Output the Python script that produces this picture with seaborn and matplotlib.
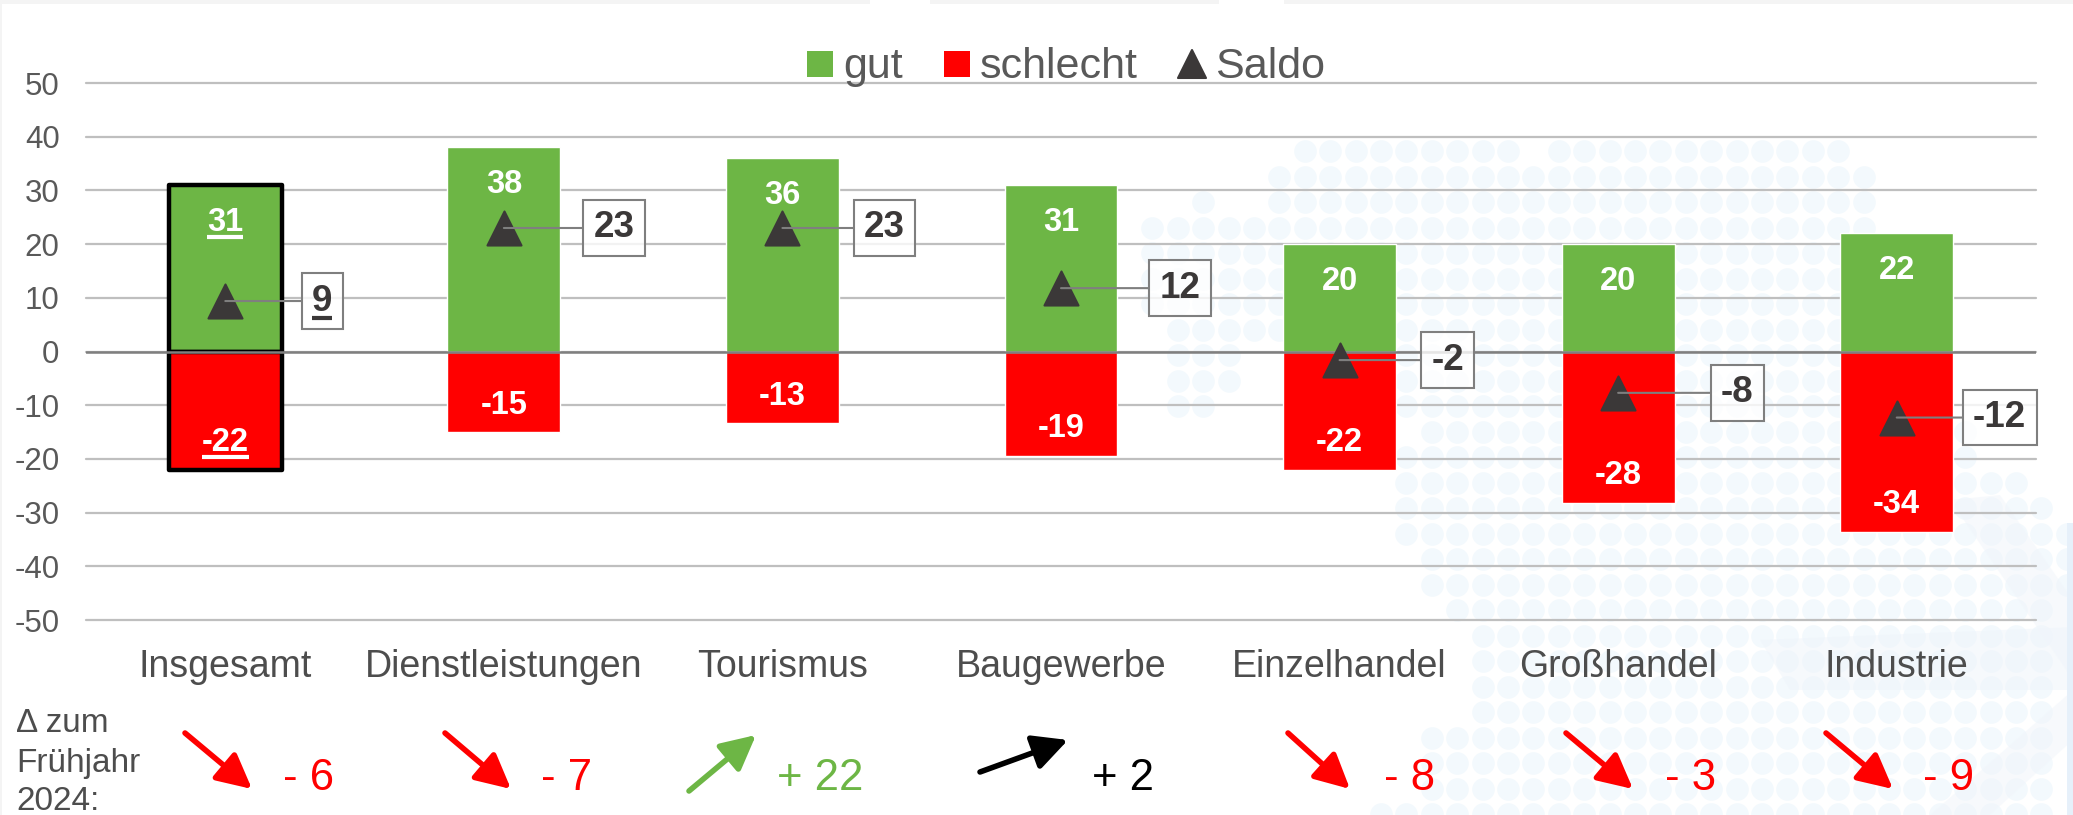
import matplotlib
matplotlib.use("Agg")
import matplotlib.pyplot as plt
from matplotlib.lines import Line2D
from matplotlib.markers import MarkerStyle
from matplotlib.text import Text
from matplotlib.transforms import IdentityTransform
import pandas as pd
import seaborn as sns

branchen = ["Insgesamt", "Dienstleistungen", "Tourismus", "Baugewerbe", "Einzelhandel", "Großhandel", "Industrie"]
gut = [31, 38, 36, 31, 20, 20, 22]
schlecht = [-22, -15, -13.4, -19.4, -22, -28.2, -33.6]
saldo = [9.4, 23, 23, 11.8, -1.6, -7.7, -12.3]
delta = [-6, -7, 22, 2, -8, -3, -9]
y_ticks = [50, 40, 30, 20, 10, 0, -10, -20, -30, -40, -50]

GREEN = "#6DB645"
RED = "#FF0000"
DARK = "#3B3838"
GREY_TEXT = "#595959"

# layout in pixels of the 2073x815 picture
box_offset = [97, 110, 102, 119, 108, 119, 103]
arrow_tail = [(185, 733), (445, 733), (689, 791), (980, 772), (1288, 733), (1566, 733), (1826, 733)]
arrow_tip = [(252, 789), (511, 789), (756, 735), (1068, 740), (1350, 789), (1633, 789), (1893, 789)]
delta_x = [283, 541, 777, 1092, 1384, 1665, 1923]

# background dot map: row y -> column ranges
dot_rows = {
    151: [(6, 14), (16, 27)], 177: [(5, 28)], 202: [(2, 2), (5, 28)], 228: [(0, 28)],
    253: [(0, 28)], 279: [(0, 28)], 304: [(0, 29)], 330: [(1, 30)], 355: [(1, 3), (10, 31)],
    381: [(1, 3), (10, 31)], 406: [(1, 2), (10, 31)], 432: [(11, 32)], 457: [(10, 32)],
    483: [(10, 34)], 508: [(10, 35)], 534: [(10, 36)], 559: [(11, 36)], 585: [(11, 36)],
    610: [(12, 35)], 636: [(13, 35)], 661: [(13, 35)], 687: [(13, 35)], 712: [(13, 35)],
    738: [(11, 35)], 763: [(11, 35)], 789: [(11, 35)], 814: [(9, 35)],
}


def draw_background(fig):
    bg = fig.add_axes([0, 0, 1, 1], zorder=-1)
    bg.set_xlim(0, 2073)
    bg.set_ylim(815, 0)
    bg.axis("off")

    xs, ys = [], []
    for y, ranges in dot_rows.items():
        for start, stop in ranges:
            for k in range(start, stop + 1):
                xs.append(1152.3 + 25.4 * k)
                ys.append(y)
    bg.scatter(xs, ys, s=265, color="#F3F9FD", lw=0, zorder=1)

    # pale arrow shape in the lower right corner
    bg.fill([1760, 2073, 2073, 1790], [640, 627, 690, 690], color="#EEF4FB", lw=0, zorder=2, alpha=0.5)
    bg.fill([1950, 2000, 2073, 2073], [500, 495, 600, 680], color="#F0F5FB", lw=0, zorder=2, alpha=0.5)
    bg.fill([1930, 2073, 2073, 1990], [815, 690, 740, 815], color="#F0F5FB", lw=0, zorder=2, alpha=0.5)
    bg.fill([2067, 2073, 2073, 2067], [523, 523, 815, 815], color="#E6F0FA", lw=0, zorder=2)

    # grey strip along the top and left edge
    for x0, x1 in [(0, 870), (930, 1219), (1284, 2073)]:
        bg.fill([x0, x1, x1, x0], [0, 0, 4, 4], color="#F4F4F4", lw=0, zorder=3)
    bg.fill([0, 2, 2, 0], [0, 0, 815, 815], color="#F4F4F4", lw=0, zorder=3)


def underline(fig, text):
    # Text's own extent, the Annotation one would include the leader line
    box = Text.get_window_extent(text, fig.canvas.get_renderer())
    y = box.y0 + 1
    fig.add_artist(Line2D([box.x0, box.x1], [y, y], color=text.get_color(), lw=3,
                          solid_capstyle="butt", transform=IdentityTransform(), zorder=10))


def draw_chart(fig):
    ax = fig.add_axes([86 / 2073, 195 / 815, 1950 / 2073, 537 / 815])
    ax.patch.set_alpha(0)

    df = pd.DataFrame({"branche": branchen, "gut": gut, "schlecht": schlecht, "saldo": saldo})
    sns.barplot(data=df, x="branche", y="gut", color=GREEN, saturation=1, width=0.405, errorbar=None, ax=ax, zorder=3)
    sns.barplot(data=df, x="branche", y="schlecht", color=RED, saturation=1, width=0.405, errorbar=None, ax=ax, zorder=3)
    sns.stripplot(data=df, x="branche", y="saldo", color=DARK, marker="^", size=24.5, jitter=False,
                  linewidth=1.5, edgecolor=DARK, ax=ax)
    # stripplot makes one collection per category
    for points in ax.collections:
        points.set_joinstyle("round")
        points.set_zorder(5)

    # black frame round the first column
    for bar in [ax.patches[0], ax.patches[len(branchen)]]:
        bar.set_edgecolor("black")
        bar.set_linewidth(3.2)
        bar.set_joinstyle("round")
        bar.set_zorder(3.5)

    ax.set_xlim(-0.5, 6.5)
    ax.set_ylim(-50, 50)
    ax.set_yticks(y_ticks)
    ax.set_yticklabels([str(v) for v in y_ticks])
    ax.set_xlabel("")
    ax.set_ylabel("")
    ax.grid(False)
    ax.yaxis.grid(True, color="#BFBFBF", lw=1.6, clip_on=False)
    ax.set_axisbelow(True)
    ax.axhline(0, color="#7F7F7F", lw=1.8, zorder=4)
    ax.tick_params(axis="y", labelsize=22.5, labelcolor=GREY_TEXT, length=0, pad=19)
    ax.tick_params(axis="x", labelsize=27, labelcolor="#4D4D4D", length=0, pad=21)
    sns.despine(ax=ax, left=True, bottom=True)

    labels = []
    for i in range(len(branchen)):
        labels.append(ax.annotate(str(gut[i]), (i, gut[i]), xytext=(0, -37), textcoords="offset pixels",
                                  ha="center", va="center", color="white", fontsize=23.5, fontweight="bold", zorder=6))
        labels.append(ax.annotate(str(round(schlecht[i])), (i, schlecht[i]), xytext=(0, 27), textcoords="offset pixels",
                                  ha="center", va="center", color="white", fontsize=23.5, fontweight="bold", zorder=6))
        box_label = ax.annotate(str(round(saldo[i])), (i, saldo[i]), xytext=(box_offset[i], 0), textcoords="offset pixels",
                                ha="center", va="center", color=DARK, fontsize=26.5, fontweight="bold", zorder=6,
                                annotation_clip=False,
                                bbox=dict(boxstyle="square,pad=0.28", fc=(1, 1, 1, 0.8), ec="#7F7F7F", lw=1.5),
                                arrowprops=dict(arrowstyle="-", color="#7F7F7F", lw=1.5, shrinkA=0, shrinkB=0))
        labels.append(box_label)

    handles = [
        Line2D([], [], ls="", marker="s", ms=18.5, mfc=GREEN, mew=0),
        Line2D([], [], ls="", marker="s", ms=18.5, mfc=RED, mew=0),
        Line2D([], [], ls="", marker=MarkerStyle("^", joinstyle="round"), ms=20, mfc=DARK, mec=DARK, mew=1.5),
    ]
    ax.legend(handles, ["gut", "schlecht", "Saldo"], ncols=3, frameon=False, loc="center",
              bbox_to_anchor=(1066 / 2073, 1 - 67 / 815), bbox_transform=fig.transFigure,
              fontsize=31, labelcolor=GREY_TEXT, handlelength=0.6, handleheight=0.6,
              handletextpad=0.24, columnspacing=0.95, borderpad=0, borderaxespad=0)

    # change against spring 2024, below the axis
    for i, d in enumerate(delta):
        if d > 0:
            color = "black" if d < 5 else GREEN
            text = f"+ {d}"
        else:
            color = RED
            text = f"- {abs(d)}"
        tail = (arrow_tail[i][0], 815 - arrow_tail[i][1])
        tip = (arrow_tip[i][0], 815 - arrow_tip[i][1])
        ax.annotate("", xy=tip, xytext=tail, xycoords="figure pixels", textcoords="figure pixels",
                    annotation_clip=False,
                    arrowprops=dict(arrowstyle="-|>,head_length=0.75,head_width=0.38", mutation_scale=28,
                                    color=color, lw=4, shrinkA=0, shrinkB=0))
        fig.text(delta_x[i] / 2073, 1 - 790 / 815, text, color=color, fontsize=31.5, va="baseline")

    for line, base in zip(["Δ zum", "Frühjahr", "2024:"], [732, 772, 810]):
        fig.text(16 / 2073, 1 - base / 815, line, color="#4D4D4D", fontsize=24, va="baseline")

    fig.canvas.draw()
    # the Insgesamt labels are underlined
    for text in labels[:3]:
        underline(fig, text)


def main():
    sns.set_theme(style="white")
    plt.rcParams["font.family"] = ["Liberation Sans", "DejaVu Sans"]
    plt.rcParams["axes.unicode_minus"] = False

    fig = plt.figure(figsize=(20.73, 8.15), dpi=100, facecolor="white")
    draw_background(fig)
    draw_chart(fig)
    fig.savefig("out.png", dpi=100)


if __name__ == "__main__":
    main()
